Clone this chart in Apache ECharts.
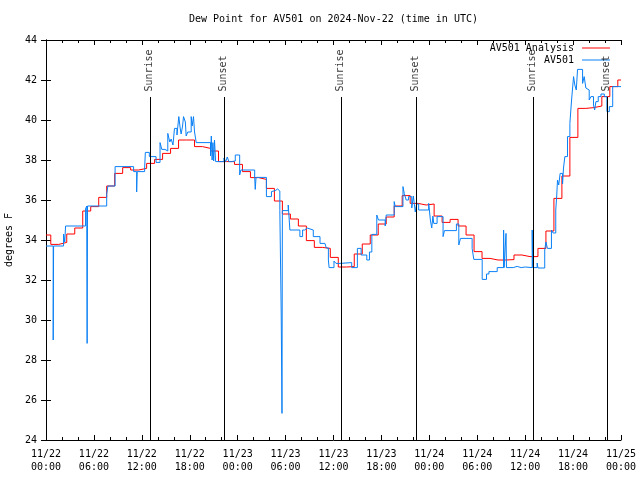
<!DOCTYPE html>
<html>
<head>
<meta charset="utf-8">
<script src="https://cdn.jsdelivr.net/npm/echarts@6/dist/echarts.min.js"></script>
<style>html,body{margin:0;padding:0;background:#fff}#c{width:640px;height:480px}</style>
</head>
<body>
<div id="c"></div>
<script>
// ---- data (hours since 2024-11-22 00:00 UTC) ----
const chartTitle = 'Dew Point for AV501 on 2024-Nov-22 (time in UTC)';
const xTickLabels = ['11/22\n00:00','11/22\n06:00','11/22\n12:00','11/22\n18:00',
  '11/23\n00:00','11/23\n06:00','11/23\n12:00','11/23\n18:00',
  '11/24\n00:00','11/24\n06:00','11/24\n12:00','11/24\n18:00','11/25\n00:00'];
// hourly analysis values (hour 0..72)
const analysisValues = [34.25,33.78,33.88,34.3,34.6,35.45,35.67,36.13,36.7,37.33,
  37.62,37.5,37.58,37.83,38.03,38.33,38.58,39.0,39.0,38.67,
  38.58,38.45,37.92,37.92,37.78,37.42,37.12,37.03,36.58,35.95,
  35.3,35.05,34.7,33.97,33.63,33.58,33.13,32.65,32.67,33.3,
  33.8,34.25,34.8,35.15,35.7,36.22,35.83,35.75,35.8,35.2,
  34.88,35.03,34.7,34.25,33.42,33.08,33.0,33.0,33.02,33.25,
  33.17,33.17,33.58,34.45,36.08,37.2,39.13,40.58,40.62,40.7,
  41.17,41.67,42.0];
// observations
const obsHours = [0,0.9,0.95,2.2,2.35,2.45,4.95,5.1,5.15,5.2,
  7.6,7.75,8.65,10.97,11.35,11.42,12.35,12.44,12.94,13.78,
  14.28,14.5,14.9,15.25,15.5,15.67,15.9,16.09,16.4,16.63,
  16.8,16.92,17.1,17.22,17.45,17.55,17.75,18.18,18.3,18.47,
  18.6,18.81,20.6,20.7,20.8,20.9,21.0,21.1,21.24,22.28,
  22.5,22.7,22.9,23.2,23.7,24.25,24.4,26.13,26.2,26.3,
  27.6,28.23,28.44,28.7,29.0,29.28,29.45,29.55,29.6,30.33,
  30.54,31.79,32.13,32.4,32.7,33.47,34.31,34.93,35.1,35.36,
  35.45,36.06,36.31,36.82,38.28,38.99,39.46,40.17,40.5,40.8,
  41.42,41.63,42.47,42.6,43.6,43.73,44.7,44.86,45.1,45.4,
  45.8,46.0,46.24,46.4,46.66,47.92,48.13,48.3,48.45,48.55,
  48.97,49.72,49.89,51.39,51.69,51.9,53.36,53.57,54.62,55.16,
  55.46,56.5,57.3,57.36,57.6,57.66,58.5,59.0,59.5,60.0,
  60.88,60.94,61.5,61.6,62.45,62.6,62.79,63.29,63.5,63.83,
  63.95,64.05,64.2,64.38,64.68,64.8,64.97,65.3,65.6,65.81,
  66.06,66.22,66.4,66.56,67.19,67.39,67.6,67.81,68.02,68.23,
  68.56,68.7,68.86,69.15,69.49,69.91,70.24,70.54,70.96,72];
const obsValues = [33.7,29.0,33.7,34.3,33.9,34.7,35.55,35.7,28.83,35.7,
  36.3,36.7,37.67,37.42,36.4,37.42,37.6,38.38,38.17,37.88,
  38.87,38.53,38.45,39.33,38.9,39.05,38.75,39.58,39.25,40.17,
  39.6,39.3,39.7,40.17,39.9,39.2,39.4,40.17,39.7,40.17,
  39.4,38.87,38.2,39.2,38.0,38.87,37.95,39.0,37.92,38.1,
  37.92,38.15,37.92,37.95,38.25,37.25,37.5,37.15,36.53,37.13,
  36.17,36.42,36.47,36.55,36.45,35.47,30.4,25.33,35.47,35.75,
  34.5,34.17,34.5,34.6,34.5,34.17,33.83,33.9,33.6,33.0,
  32.62,32.95,32.83,32.87,32.62,33.58,33.25,33.0,33.4,34.28,
  35.25,35.0,34.7,35.25,35.92,35.67,36.67,36.33,36.0,36.17,
  35.6,36.2,35.4,35.8,35.5,35.83,35.0,34.6,35.2,34.83,
  35.17,34.17,34.47,34.8,33.75,34.08,33.58,33.03,32.03,32.3,
  32.42,32.62,34.5,32.62,34.33,32.62,32.68,32.62,32.65,32.62,
  34.5,32.62,32.85,32.6,33.5,33.9,33.58,34.5,34.35,35.5,
  36.2,37.0,36.75,37.33,36.8,37.6,38.17,39.17,39.83,41.0,
  42.17,41.75,41.5,42.53,41.83,42.17,41.6,41.5,41.0,41.17,
  40.75,40.5,40.92,41.17,41.3,41.17,40.42,40.67,41.67,41.67];
const eventNames = ['Sunrise','Sunset','Sunrise','Sunset','Sunrise','Sunset'];
const eventHours = [13.02,22.31,36.95,46.33,61.0,70.28];
const eventLineTop = 41.15;
const eventLabelBase = 41.4;
const yMin = 24, yMax = 44, yStep = 2;

// ---- build ----
const analysisData = analysisValues.map((v, k) => [Math.max(0, k - 0.4), v]);
analysisData.push([72, analysisValues[analysisValues.length - 1]]);
const obsData = obsHours.map((h, i) => [h, obsValues[i]]);

const FONT = 'DejaVu Sans Mono';
const txt = {fontFamily: FONT, fontSize: 10, color: '#000'};

const chart = echarts.init(document.getElementById('c'), null, {renderer: 'canvas'});
const xBase = {
  type: 'value', min: 0, max: 72, interval: 6,
  axisLine: {show: true, lineStyle: {color: '#000', width: 1}},
  axisTick: {show: true, inside: true, length: 5, lineStyle: {color: '#000'}},
  minorTick: {show: true, splitNumber: 3, length: 3, lineStyle: {color: '#000'}},
  splitLine: {show: false}
};
const yBase = {
  type: 'value', min: yMin, max: yMax, interval: yStep,
  axisLine: {show: true, lineStyle: {color: '#000', width: 1}},
  axisTick: {show: true, inside: true, length: 5, lineStyle: {color: '#000'}},
  splitLine: {show: false}
};
chart.setOption({
  backgroundColor: '#fff',
  animation: false,
  textStyle: {fontFamily: FONT},
  title: {text: chartTitle, left: 184, top: 9, padding: 5,
    textStyle: Object.assign({}, txt, {fontWeight: 'normal'})},
  grid: {left: 46, right: 19, top: 40, bottom: 40, containLabel: false, outerBoundsMode: 'none'},
  legend: [
    {data: ['AV501 Analysis'], right: 30, top: 43, align: 'right', icon: 'rect',
     itemWidth: 28, itemHeight: 1, padding: 0, textStyle: Object.assign({}, txt, {padding: [0, 3, 0, 0]})},
    {data: ['AV501'], right: 30, top: 55, align: 'right', icon: 'rect',
     itemWidth: 28, itemHeight: 1, padding: 0, textStyle: Object.assign({}, txt, {padding: [0, 3, 0, 0]})}
  ],
  xAxis: [
    Object.assign({}, xBase, {position: 'bottom',
      axisLabel: Object.assign({}, txt, {margin: 8, lineHeight: 13,
        formatter: v => xTickLabels[Math.round(v / 6)] || ''})}),
    Object.assign({}, xBase, {position: 'top', axisLabel: {show: false}})
  ],
  yAxis: [
    Object.assign({}, yBase, {position: 'left', name: 'degrees F', nameLocation: 'middle',
      nameGap: 31, nameTextStyle: txt, axisLabel: Object.assign({}, txt, {margin: 9})}),
    Object.assign({}, yBase, {position: 'right', axisLabel: {show: false}})
  ],
  series: [
    {name: 'AV501 Analysis', type: 'line', step: 'end', data: analysisData,
     showSymbol: false, symbol: 'none', color: '#ff0000',
     lineStyle: {color: '#ff0000', width: 1}, z: 3},
    {name: 'AV501', type: 'line', step: 'end', data: obsData,
     showSymbol: false, symbol: 'none', color: '#0a80f5',
     lineStyle: {color: '#0a80f5', width: 1}, z: 4},
    {name: 'events', type: 'scatter', symbolSize: 1, z: 5, silent: true,
     data: eventHours.map((h, i) => ({value: [h, eventLabelBase], name: eventNames[i]})),
     itemStyle: {color: 'rgba(0,0,0,0)'},
     label: {show: true, position: [0, 0], rotate: 90, align: 'left', verticalAlign: 'middle',
       formatter: p => p.name, fontFamily: FONT, fontSize: 10, color: '#000'},
     labelLayout: {hideOverlap: false},
     markLine: {silent: true, symbol: 'none', label: {show: false},
       lineStyle: {color: '#000', width: 1, type: 'solid'},
       data: eventHours.map(h => [{coord: [h, eventLineTop]}, {coord: [h, yMin]}])}}
  ]
});
</script>
</body>
</html>
